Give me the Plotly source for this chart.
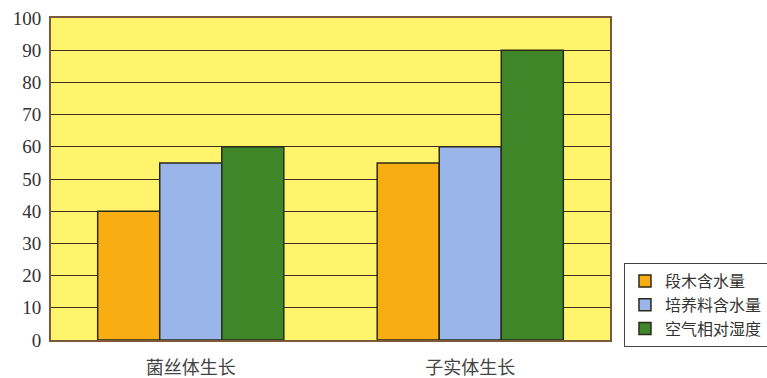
import plotly.graph_objects as go

categories = ["菌丝体生长", "子实体生长"]
series_names = ["段木含水量", "培养料含水量", "空气相对湿度"]
values_duanmu = [40, 55]
values_peiyangliao = [55, 60]
values_kongqi = [60, 90]
tick_vals = list(range(0, 101, 10))

colors = ["#F8AE12", "#9AB5EA", "#3F8629"]

fig = go.Figure()
for name, vals, c in zip(series_names, [values_duanmu, values_peiyangliao, values_kongqi], colors):
    fig.add_trace(go.Bar(
        x=categories, y=vals, name=name,
        marker=dict(color=c, line=dict(color="#2a2a1a", width=1.5)),
    ))

fig.update_layout(
    width=767, height=378,
    margin=dict(l=51, r=157, t=18, b=38, autoexpand=False),
    paper_bgcolor="white",
    plot_bgcolor="#FFF46C",
    barmode="group",
    bargap=0.334,
    bargroupgap=0,
    showlegend=True,
    legend=dict(
        x=1.025, y=-0.022, xanchor="left", yanchor="bottom",
        bgcolor="white", bordercolor="#444", borderwidth=1,
        font=dict(family="Noto Sans CJK SC", size=16, color="#333"),
        tracegroupgap=0, itemwidth=30,
    ),
    xaxis=dict(
        showline=True, linecolor="#7a5a3a", linewidth=2, mirror=True,
        tickfont=dict(family="Noto Sans CJK SC", size=18, color="#444"),
        ticks="", ticklabelstandoff=10,
    ),
    yaxis=dict(
        range=[0, 100], tickvals=tick_vals,
        showline=True, linecolor="#7a5a3a", linewidth=2, mirror=True,
        gridcolor="#3a3020", gridwidth=1,
        tickfont=dict(family="'Liberation Serif', 'DejaVu Serif', serif", size=19, color="#333"),
        ticks="", zeroline=False, ticklabelstandoff=4,
    ),
)

fig.write_html("out.html")
